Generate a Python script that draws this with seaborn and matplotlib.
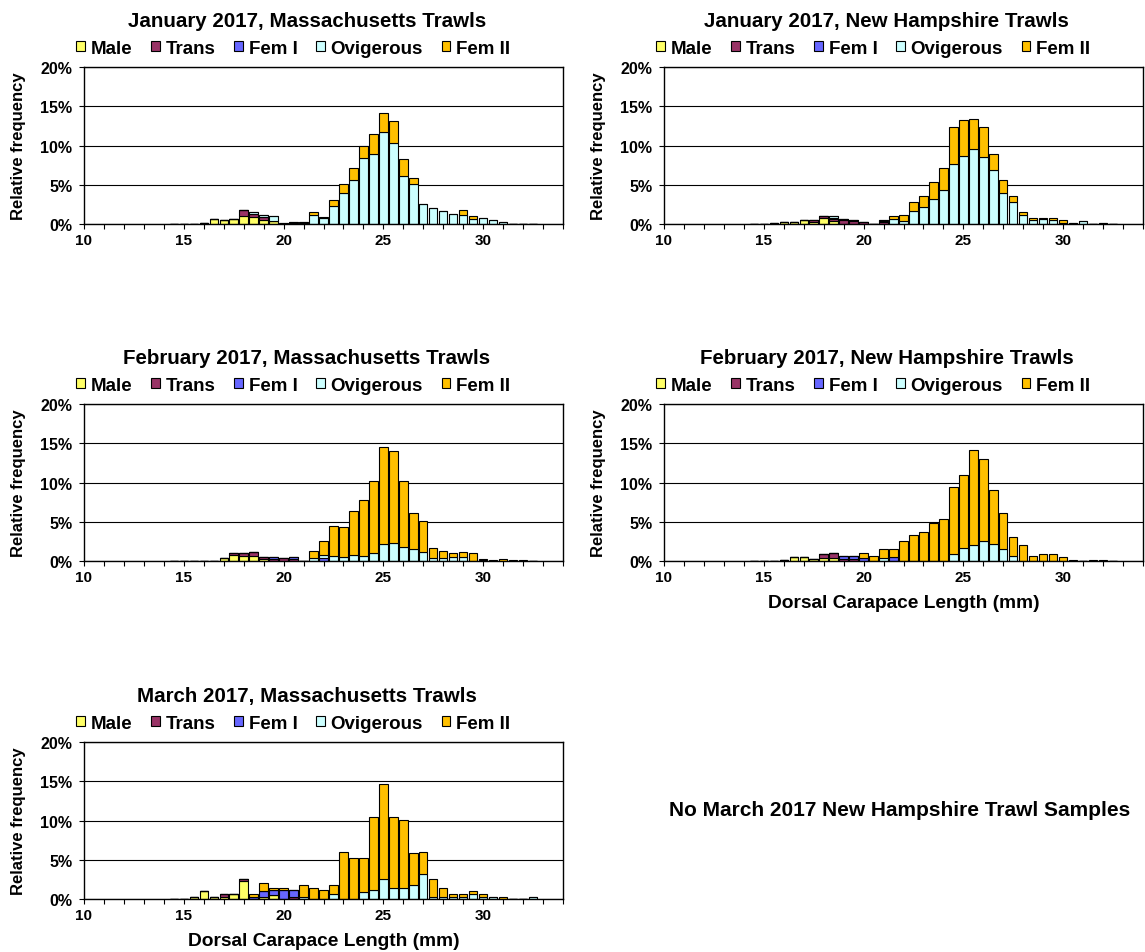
import numpy as np
import pandas as pd
import matplotlib
matplotlib.use('Agg')
import matplotlib.pyplot as plt
import seaborn as sns
from matplotlib.patches import Patch
from matplotlib.ticker import FuncFormatter, MultipleLocator

sns.set_style('white')
plt.rcParams['font.family'] = ['Liberation Sans', 'DejaVu Sans']
plt.rcParams['font.weight'] = 'bold'
for key in ('text.color', 'axes.labelcolor', 'xtick.color', 'ytick.color'):
    plt.rcParams[key] = 'black'

stages = ['Male', 'Trans', 'Fem I', 'Ovigerous', 'Fem II']
colors = ['#FFFF66', '#993366', '#6666FF', '#CCFFFF', '#FFC000']

# carapace length classes (mm), 0.5 mm bins
lengths = np.arange(14.5, 33.0, 0.5)

# relative frequency (%) per stage, only non-zero classes listed
jan_ma_male = {15.5: 0.05, 16: 0.1, 16.5: 0.64, 17: 0.47, 17.5: 0.64, 18: 1.06,
               18.5: 0.9, 19: 0.55, 19.5: 0.43}
jan_ma_trans = {18: 0.77, 18.5: 0.4, 19: 0.3, 20.5: 0.1, 21: 0.1}
jan_ma_fem1 = {}
jan_ma_ovig = {18.5: 0.2, 19: 0.3, 19.5: 0.57, 20: 0.1, 20.5: 0.1, 21: 0.1,
               21.5: 1.1, 22: 0.77, 22.5: 2.26, 23: 3.9, 23.5: 5.6, 24: 8.4,
               24.5: 8.9, 25: 11.7, 25.5: 10.3, 26: 6.1, 26.5: 5.1, 27: 2.5,
               27.5: 2.0, 28: 1.66, 28.5: 1.28, 29: 1.15, 29.5: 0.68, 30: 0.77,
               30.5: 0.5, 31: 0.2, 31.5: 0.05}
jan_ma_fem2 = {21.5: 0.4, 22: 0.1, 22.5: 0.74, 23: 1.2, 23.5: 1.5, 24: 1.6,
               24.5: 2.6, 25: 2.5, 25.5: 2.8, 26: 2.2, 26.5: 0.7, 27: 0.05,
               28.5: 0.05, 29: 0.68, 29.5: 0.32}

jan_nh_male = {16: 0.2, 16.5: 0.2, 17: 0.5, 17.5: 0.3, 18: 0.77, 18.5: 0.35}
jan_nh_trans = {15.5: 0.1, 16: 0.1, 16.5: 0.1, 17.5: 0.15, 18: 0.29, 18.5: 0.35,
                19: 0.5, 19.5: 0.4, 20: 0.2, 21: 0.3}
jan_nh_fem1 = {18.5: 0.1, 19: 0.1, 19.5: 0.1, 20: 0.1, 21: 0.1}
jan_nh_ovig = {18.5: 0.2, 19.5: 0.05, 21: 0.1, 21.5: 0.64, 22: 0.43, 22.5: 1.66,
               23: 2.13, 23.5: 3.15, 24: 4.3, 24.5: 7.6, 25: 8.7, 25.5: 9.5,
               26: 8.55, 26.5: 6.9, 27: 3.96, 27.5: 2.77, 28: 1.15, 28.5: 0.47,
               29: 0.6, 29.5: 0.47, 30: 0.17, 30.5: 0.17, 31: 0.34, 32: 0.15}
jan_nh_fem2 = {21.5: 0.36, 22: 0.72, 22.5: 1.19, 23: 1.47, 23.5: 2.15, 24: 2.8,
               24.5: 4.8, 25: 4.5, 25.5: 3.9, 26: 3.85, 26.5: 2.0, 27: 1.64,
               27.5: 0.83, 28: 0.35, 28.5: 0.33, 29: 0.2, 29.5: 0.33, 30: 0.33}

feb_ma_male = {16: 0.05, 16.5: 0.05, 17: 0.42, 17.5: 0.72, 18: 0.6, 18.5: 0.6,
               19: 0.2}
feb_ma_trans = {17.5: 0.28, 18: 0.4, 18.5: 0.6, 19: 0.35, 19.5: 0.3, 20: 0.4,
                20.5: 0.3}
feb_ma_fem1 = {19.5: 0.2, 20.5: 0.2, 22: 0.42}
feb_ma_ovig = {21.5: 0.42, 22: 0.38, 22.5: 0.6, 23: 0.47, 23.5: 0.8, 24: 0.64,
               24.5: 1.0, 25: 2.17, 25.5: 2.3, 26: 1.8, 26.5: 1.5, 27: 1.15,
               27.5: 0.34, 28: 0.34, 28.5: 0.47, 29: 0.47, 30: 0.15}
feb_ma_fem2 = {21.5: 0.88, 22: 1.8, 22.5: 3.86, 23: 3.83, 23.5: 5.6, 24: 7.16,
               24.5: 9.2, 25: 12.33, 25.5: 11.75, 26: 8.4, 26.5: 4.6, 27: 3.95,
               27.5: 1.26, 28: 0.96, 28.5: 0.53, 29: 0.63, 29.5: 1.0, 30: 0.15,
               30.5: 0.13, 31: 0.3, 31.5: 0.17, 32: 0.1}

feb_nh_male = {15: 0.05, 15.5: 0.05, 16: 0.1, 16.5: 0.5, 17: 0.5, 17.5: 0.3,
               18: 0.42, 18.5: 0.42}
feb_nh_trans = {18: 0.48, 18.5: 0.58, 19: 0.3, 19.5: 0.3}
feb_nh_fem1 = {14.5: 0.05, 19: 0.34, 19.5: 0.34, 20: 0.34, 21.5: 0.5}
feb_nh_ovig = {21: 0.34, 24.5: 0.85, 25: 1.65, 25.5: 2.0, 26: 2.6, 26.5: 2.17,
               27: 1.5, 27.5: 0.6}
feb_nh_fem2 = {20: 0.66, 20.5: 0.6, 21: 1.16, 21.5: 1.0, 22: 2.6, 22.5: 3.3,
               23: 3.65, 23.5: 4.9, 24: 5.4, 24.5: 8.55, 25: 9.35, 25.5: 12.2,
               26: 10.4, 26.5: 6.93, 27: 4.6, 27.5: 2.4, 28: 2.0, 28.5: 0.64,
               29: 0.85, 29.5: 0.85, 30: 0.47, 30.5: 0.1, 31.5: 0.1, 32: 0.1}

mar_ma_male = {15.5: 0.3, 16: 0.97, 16.5: 0.25, 17: 0.3, 17.5: 0.6, 18: 2.25,
               19: 0.2, 19.5: 0.55}
mar_ma_trans = {17: 0.3, 18: 0.35, 20.5: 0.25}
mar_ma_fem1 = {18.5: 0.25, 19: 0.8, 19.5: 0.55, 20: 1.1, 20.5: 0.85}
mar_ma_ovig = {21: 0.25, 22.5: 0.6, 24: 0.85, 24.5: 1.1, 25: 2.6, 25.5: 1.4,
               26: 1.4, 26.5: 1.75, 27: 3.2, 27.5: 0.25, 28: 0.25, 28.5: 0.3,
               29: 0.25, 29.5: 0.6, 30: 0.25, 30.5: 0.25, 32.5: 0.3}
mar_ma_fem2 = {18.5: 0.35, 19: 1.1, 19.5: 0.35, 20: 0.35, 21: 1.5, 21.5: 1.45,
               22: 1.1, 22.5: 1.15, 23: 6.0, 23.5: 5.2, 24: 4.35, 24.5: 9.4,
               25: 12.0, 25.5: 9.1, 26: 8.7, 26.5: 4.15, 27: 2.8, 27.5: 2.35,
               28: 1.2, 28.5: 0.3, 29: 0.35, 29.5: 0.37, 30: 0.35, 31: 0.25}

titles = ['January 2017, Massachusetts Trawls', 'January 2017, New Hampshire Trawls',
          'February 2017, Massachusetts Trawls', 'February 2017, New Hampshire Trawls',
          'March 2017, Massachusetts Trawls']
panels = [
    [jan_ma_male, jan_ma_trans, jan_ma_fem1, jan_ma_ovig, jan_ma_fem2],
    [jan_nh_male, jan_nh_trans, jan_nh_fem1, jan_nh_ovig, jan_nh_fem2],
    [feb_ma_male, feb_ma_trans, feb_ma_fem1, feb_ma_ovig, feb_ma_fem2],
    [feb_nh_male, feb_nh_trans, feb_nh_fem1, feb_nh_ovig, feb_nh_fem2],
    [mar_ma_male, mar_ma_trans, mar_ma_fem1, mar_ma_ovig, mar_ma_fem2],
]


def panel_frame(series):
    rows = []
    for stage, vals in zip(stages, series):
        for l in lengths:
            rows.append((float(l), stage, vals.get(float(l), 0.0)))
    return pd.DataFrame(rows, columns=['length', 'stage', 'freq'])


W, H = 1145, 953
fig = plt.figure(figsize=(W / 100, H / 100), dpi=100)

# axes boxes in pixels: left, top, right, bottom
boxes = [(84, 68, 563, 225), (664, 68, 1143, 225),
         (84, 405, 563, 562), (664, 405, 1143, 562),
         (84, 743, 563, 900)]
palette = dict(zip(stages, colors))
handles = [Patch(facecolor=c, edgecolor='black', linewidth=0.8) for c in colors]

for i, (series, title, box) in enumerate(zip(panels, titles, boxes)):
    l, t, r, b = box
    ax = fig.add_axes([l / W, 1 - b / H, (r - l) / W, (b - t) / H])
    df = panel_frame(series)
    sns.histplot(data=df, x='length', weights='freq', hue='stage',
                 hue_order=stages[::-1], palette=palette, multiple='stack',
                 binwidth=0.5, binrange=(14.25, 32.75), shrink=0.84, alpha=1,
                 edgecolor='black', linewidth=0.8, legend=False, ax=ax)
    ax.set_xlim(10, 34)
    ax.set_ylim(0, 20)
    ax.set_xticks([10, 15, 20, 25, 30])
    ax.xaxis.set_minor_locator(MultipleLocator(1))
    ax.yaxis.set_major_locator(MultipleLocator(5))
    ax.yaxis.set_major_formatter(FuncFormatter(lambda v, p: f'{int(v)}%'))
    ax.tick_params(axis='both', which='both', direction='out', length=3.5,
                   width=0.8, color='black')
    ax.tick_params(axis='x', which='both', bottom=True, labelsize=11, pad=3)
    ax.tick_params(axis='y', left=True, labelsize=11.5, pad=5)
    ax.yaxis.grid(True, color='black', linewidth=0.8)
    ax.set_axisbelow(True)
    for s in ax.spines.values():
        s.set_color('black')
        s.set_linewidth(1.0)
    ax.set_ylabel('Relative frequency', fontsize=12, fontweight='bold')
    ax.yaxis.set_label_coords(-0.121, 0.5)
    if i in (3, 4):
        ax.set_xlabel('Dorsal Carapace Length (mm)', fontsize=13.8, fontweight='bold',
                      labelpad=7)
    else:
        ax.set_xlabel('')
    ax.text(0.465, 1.295, title, transform=ax.transAxes, ha='center', va='center',
            fontsize=14.8, fontweight='bold')
    ax.legend(handles, stages, loc='center left', bbox_to_anchor=(-0.016, 1.12),
              ncol=5, frameon=False, borderpad=0, borderaxespad=0,
              handlelength=0.45, handleheight=0.45, handletextpad=0.32,
              columnspacing=1.0, prop={'weight': 'bold', 'size': 13.5})

fig.text(900 / W, 1 - 810 / H, 'No March 2017 New Hampshire Trawl Samples',
         ha='center', va='center', fontsize=15, fontweight='bold')

fig.savefig('out.png', dpi=100)
